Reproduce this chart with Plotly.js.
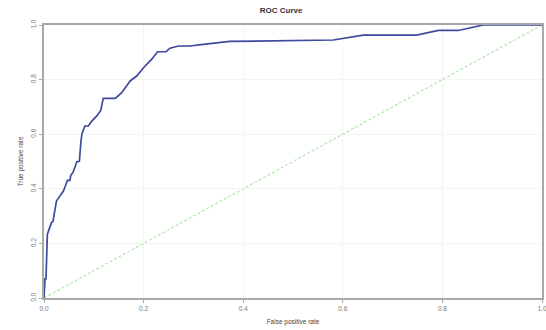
<!DOCTYPE html>
<html>
<head>
<meta charset="utf-8">
<script src="https://cdn.plot.ly/plotly-3.0.1.min.js"></script>
<style>html,body{margin:0;padding:0;background:#fff;overflow:hidden;}#chart{width:546px;height:330px;}</style>
</head>
<body>
<div id="chart"></div>
<script>
// ROC curve points
var fpr = [0, 0.002, 0.004, 0.005, 0.006, 0.0067, 0.009, 0.015, 0.018, 0.022, 0.024, 0.025, 0.032, 0.039, 0.044, 0.047, 0.052, 0.054, 0.058, 0.062, 0.066, 0.071, 0.072, 0.074, 0.076, 0.079, 0.082, 0.089, 0.096, 0.106, 0.114, 0.119, 0.143, 0.156, 0.173, 0.186, 0.203, 0.216, 0.228, 0.245, 0.253, 0.27, 0.293, 0.32, 0.347, 0.373, 0.581, 0.641, 0.748, 0.792, 0.832, 0.882, 1.0];
var tpr = [0, 0.07, 0.07, 0.15, 0.22, 0.233, 0.245, 0.276, 0.28, 0.319, 0.337, 0.355, 0.374, 0.392, 0.416, 0.431, 0.431, 0.45, 0.459, 0.477, 0.499, 0.501, 0.532, 0.569, 0.6, 0.612, 0.63, 0.63, 0.648, 0.667, 0.687, 0.731, 0.731, 0.752, 0.795, 0.813, 0.85, 0.874, 0.902, 0.902, 0.915, 0.923, 0.923, 0.929, 0.935, 0.94, 0.945, 0.963, 0.963, 0.98, 0.98, 1.0, 1.0];
var diagX = [0, 1];
var diagY = [0, 1];
var tickVals = [0, 0.2, 0.4, 0.6, 0.8, 1.0];
var tickText = ["0.0", "0.2", "0.4", "0.6", "0.8", "1.0"];

var traces = [
  {x: diagX, y: diagY, mode: 'lines', line: {color: '#a6e8a0', width: 1.1, dash: '3px,2px'}, hoverinfo: 'skip'},
  {x: fpr, y: tpr, mode: 'lines', line: {color: '#3d4a9e', width: 1.7}}
];

var axisCommon = {
  range: [0, 1],
  tickvals: tickVals,
  ticktext: tickText,
  showline: true,
  linecolor: '#a8a8a8',
  linewidth: 2,
  mirror: true,
  ticks: 'outside',
  ticklen: 3,
  tickcolor: '#a8a8a8',
  showgrid: true,
  gridcolor: '#f3f5f3',
  gridwidth: 1,
  zeroline: false,
  automargin: false,
  ticklabeloverflow: 'allow',
  tickfont: {family: 'Liberation Sans, Arial, sans-serif', size: 6.5, color: '#777'}
};

var layout = {
  width: 546, height: 330,
  margin: {l: 44, r: 4, t: 25, b: 32},
  paper_bgcolor: '#fff', plot_bgcolor: '#fff',
  showlegend: false,
  title: {text: '<b>ROC Curve</b>', x: 0.515, xanchor: 'center', y: 0.97, yanchor: 'middle',
          font: {family: 'Liberation Sans, Arial, sans-serif', size: 8, color: '#333'}},
  xaxis: Object.assign({}, axisCommon, {
    title: {text: 'False positive rate', standoff: 9, font: {family: 'Liberation Sans, Arial, sans-serif', size: 6.5, color: '#444'}}
  }),
  yaxis: Object.assign({}, axisCommon, {
    tickangle: -90,
    title: {text: 'True positive rate', standoff: 6, font: {family: 'Liberation Sans, Arial, sans-serif', size: 6.5, color: '#444'}}
  })
};

Plotly.newPlot('chart', traces, layout, {displayModeBar: false, staticPlot: true});
</script>
</body>
</html>
